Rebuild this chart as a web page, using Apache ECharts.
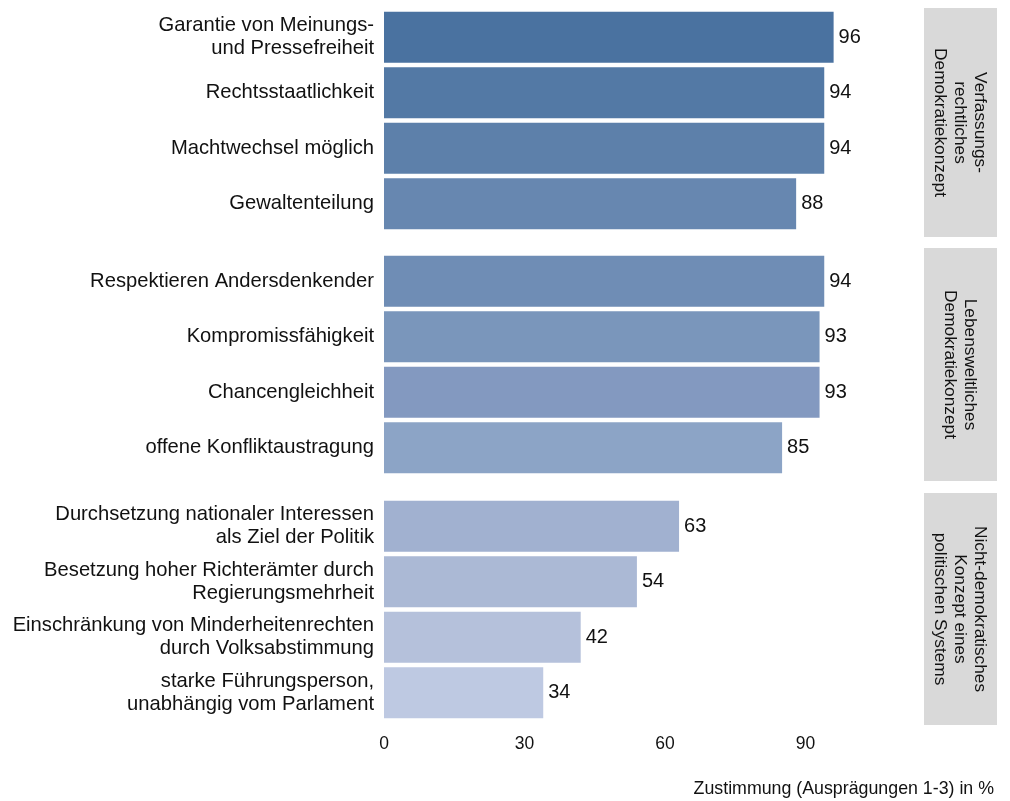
<!DOCTYPE html>
<html><head><meta charset="utf-8">
<script src="https://cdn.jsdelivr.net/npm/echarts@6/dist/echarts.min.js"></script>
<style>html,body{margin:0;padding:0;background:#fff}#c{width:1010px;height:801px}</style>
</head><body><div id="c"></div>
<script>
const facetNames = [
  "Verfassungs-\nrechtliches\nDemokratiekonzept",
  "Lebensweltliches\nDemokratiekonzept",
  "Nicht-demokratisches\nKonzept eines\npolitischen Systems"
];
const categories1 = ["Garantie von Meinungs-\nund Pressefreiheit","Rechtsstaatlichkeit","Machtwechsel möglich","Gewaltenteilung"];
const values1 = [96, 94, 94, 88];
const categories2 = ["Respektieren Andersdenkender","Kompromissfähigkeit","Chancengleichheit","offene Konfliktaustragung"];
const values2 = [94, 93, 93, 85];
const categories3 = ["Durchsetzung nationaler Interessen\nals Ziel der Politik","Besetzung hoher Richterämter durch\nRegierungsmehrheit","Einschränkung von Minderheitenrechten\ndurch Volksabstimmung","starke Führungsperson,\nunabhängig vom Parlament"];
const values3 = [63, 54, 42, 34];
const xTicks = [0, 30, 60, 90];
const xTitle = "Zustimmung (Ausprägungen 1-3) in %";

const colors = [
  ["#4a72a0","#5379a5","#5d80aa","#6787b0"],
  ["#6f8db5","#7a96bb","#8399c0","#8ca4c6"],
  ["#a1b1d0","#abb9d5","#b5c1db","#bec9e2"]
];
const FONT = "Liberation Sans, Arial, sans-serif";
const TXT = '#111';
const cats = [categories1, categories2, categories3];
const vals = [values1, values2, values3];
const tops = [9.5, 253.5, 498.5];
const gridH = 222;
const strips = [[8,237],[248,481],[493,725]];

const grid = [], xAxis = [], yAxis = [], series = [], graphic = [];
for (let i = 0; i < 3; i++) {
  grid.push({left: 384, width: 538.6, top: tops[i], height: gridH});
  xAxis.push({
    type: 'value', gridIndex: i, min: 0, max: 115, interval: 30,
    axisLine: {show: false}, axisTick: {show: false}, splitLine: {show: false},
    axisLabel: {show: i === 2, showMaxLabel: false, margin: 15, fontSize: 17.5, color: TXT, fontFamily: FONT,
      formatter: v => xTicks.includes(v) ? String(v) : ''}
  });
  yAxis.push({
    type: 'category', gridIndex: i, inverse: true, data: cats[i],
    axisLine: {show: false}, axisTick: {show: false}, splitLine: {show: false},
    axisLabel: {margin: 10, fontSize: 20.2, lineHeight: 22.7, color: TXT, fontFamily: FONT, align: 'right'}
  });
  series.push({
    type: 'bar', xAxisIndex: i, yAxisIndex: i, barCategoryGap: '8.5%',
    data: vals[i].map((v, j) => ({value: v, itemStyle: {color: colors[i][j]}})),
    label: {show: true, position: 'right', distance: 5, fontSize: 20, color: TXT, fontFamily: FONT},
    animation: false
  });
  const [y0, y1] = strips[i];
  graphic.push({type: 'rect', shape: {x: 924, y: y0, width: 73, height: y1 - y0}, style: {fill: '#d9d9d9'}, silent: true});
  graphic.push({type: 'text', x: 960, y: (y0 + y1) / 2, rotation: -Math.PI / 2,
    style: {text: facetNames[i], fontSize: 17.3, lineHeight: 20, fill: TXT, fontFamily: FONT, align: 'center', verticalAlign: 'middle'}});
}
graphic.push({type: 'text', x: 994, y: 789, style: {text: xTitle, fontSize: 17.8, fill: TXT, fontFamily: FONT, align: 'right', verticalAlign: 'middle'}});

const chart = echarts.init(document.getElementById('c'), null, {renderer: 'canvas'});
chart.setOption({animation: false, backgroundColor: '#fff', grid, xAxis, yAxis, series, graphic});
</script></body></html>
